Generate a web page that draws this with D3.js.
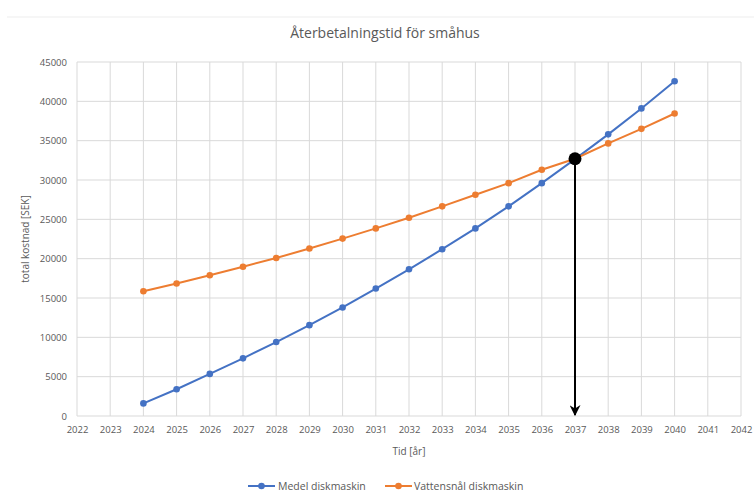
<!DOCTYPE html>
<html>
<head>
<meta charset="utf-8">
<script src="https://cdn.jsdelivr.net/npm/d3@7"></script>
<style>
  html, body { margin: 0; padding: 0; background: #fff; }
  svg { display: block; font-family: "Open Sans", "Liberation Sans", sans-serif; }
</style>
</head>
<body>
<svg id="chart" width="754" height="499"></svg>
<script>
// Years with data and cumulative cost per dishwasher type (SEK)
const years = [2024, 2025, 2026, 2027, 2028, 2029, 2030, 2031, 2032, 2033, 2034, 2035, 2036, 2037, 2038, 2039, 2040];
const medelValues = [1600, 3400, 5350, 7330, 9400, 11550, 13800, 16200, 18650, 21200, 23850, 26650, 29600, 32650, 35800, 39100, 42550];
const snalValues = [15850, 16850, 17900, 18980, 20080, 21300, 22550, 23850, 25200, 26650, 28130, 29600, 31300, 32700, 34650, 36500, 38450];
const seriesNames = ["Medel diskmaskin", "Vattensnål diskmaskin"];
const seriesColors = ["#4472C4", "#ED7D31"];
const xTicks = d3.range(2022, 2043);
const yTicks = [0, 5000, 10000, 15000, 20000, 25000, 30000, 35000, 40000, 45000];
// Payback point: the year where the two cost curves meet
const paybackYear = 2037;
const paybackCost = 32700;

const svg = d3.select("#chart");
const margin = { left: 77, right: 13, top: 62, bottom: 83 };
const W = 754, H = 499;

const x = d3.scaleLinear().domain([2022, 2042]).range([margin.left, W - margin.right]);
const y = d3.scaleLinear().domain([0, 45000]).range([H - margin.bottom, margin.top]);

// frame edge line at top
svg.append("line").attr("x1", 7).attr("x2", W).attr("y1", 17).attr("y2", 17)
  .attr("stroke", "#ededed").attr("stroke-width", 1);

// Title
svg.append("text").attr("x", 385).attr("y", 38).attr("text-anchor", "middle")
  .attr("font-size", 14).attr("fill", "#595959").text("Återbetalningstid för småhus");

// Gridlines
const grid = svg.append("g");
grid.selectAll(".hg").data(yTicks).join("line")
  .attr("x1", x(2022)).attr("x2", x(2042))
  .attr("y1", d => y(d)).attr("y2", d => y(d))
  .attr("stroke", "#d9d9d9").attr("stroke-width", 1);
grid.selectAll(".vg").data(xTicks).join("line")
  .attr("x1", d => x(d)).attr("x2", d => x(d))
  .attr("y1", y(0)).attr("y2", y(45000))
  .attr("stroke", "#d9d9d9").attr("stroke-width", 1);

// Axes (labels only)
const yAxis = svg.append("g").attr("transform", `translate(${x(2022) - 10},0)`)
  .call(d3.axisLeft(y).tickValues(yTicks).tickSize(0).tickPadding(0).tickFormat(d3.format("d")));
yAxis.select(".domain").remove();
yAxis.selectAll("text").attr("font-size", 9.5).attr("fill", "#595959")
  .attr("font-family", "'Open Sans', sans-serif");

const xAxis = svg.append("g").attr("transform", `translate(0,${y(0) + 10})`)
  .call(d3.axisBottom(x).tickValues(xTicks).tickSize(0).tickPadding(0).tickFormat(d3.format("d")));
xAxis.select(".domain").remove();
xAxis.selectAll("text").attr("font-size", 9.5).attr("fill", "#595959")
  .attr("font-family", "'Open Sans', sans-serif");

// Axis titles
svg.append("text").attr("x", x(2032)).attr("y", 455).attr("text-anchor", "middle")
  .attr("font-size", 10).attr("fill", "#595959").text("Tid [år]");
svg.append("text").attr("transform", `translate(29,${(y(0) + y(45000)) / 2}) rotate(-90)`)
  .attr("text-anchor", "middle").attr("font-size", 10).attr("fill", "#595959")
  .text("total kostnad [SEK]");

// Series
const series = [medelValues, snalValues];
const line = d3.line().x((d, i) => x(years[i])).y(d => y(d));
series.forEach((vals, k) => {
  svg.append("path").datum(vals).attr("d", line)
    .attr("fill", "none").attr("stroke", seriesColors[k]).attr("stroke-width", 2);
  svg.append("g").selectAll("circle").data(vals).join("circle")
    .attr("cx", (d, i) => x(years[i])).attr("cy", d => y(d)).attr("r", 3.3)
    .attr("fill", seriesColors[k]);
});

// Payback arrow
svg.append("defs").append("marker").attr("id", "arrow")
  .attr("viewBox", "0 0 10 10").attr("refX", 9).attr("refY", 5)
  .attr("markerWidth", 5.5).attr("markerHeight", 5.5).attr("orient", "auto")
  .attr("markerUnits", "strokeWidth")
  .append("path").attr("d", "M0,0 L10,5 L0,10 L3,5 Z").attr("fill", "#000");
svg.append("line")
  .attr("x1", x(paybackYear)).attr("x2", x(paybackYear))
  .attr("y1", y(paybackCost)).attr("y2", y(0) - 1)
  .attr("stroke", "#000").attr("stroke-width", 2).attr("marker-end", "url(#arrow)");
svg.append("circle").attr("cx", x(paybackYear)).attr("cy", y(paybackCost)).attr("r", 6.5).attr("fill", "#000");

// Legend
const legendItems = [
  { x0: 248, tx: 278 },
  { x0: 385, tx: 414 }
];
legendItems.forEach((it, k) => {
  const g = svg.append("g");
  g.append("line").attr("x1", it.x0).attr("x2", it.x0 + 27).attr("y1", 486).attr("y2", 486)
    .attr("stroke", seriesColors[k]).attr("stroke-width", 2);
  g.append("circle").attr("cx", it.x0 + 13.5).attr("cy", 486).attr("r", 3.3).attr("fill", seriesColors[k]);
  g.append("text").attr("x", it.tx).attr("y", 489.8).attr("font-size", 10.5).attr("fill", "#595959")
    .text(seriesNames[k]);
});
</script>
</body>
</html>
